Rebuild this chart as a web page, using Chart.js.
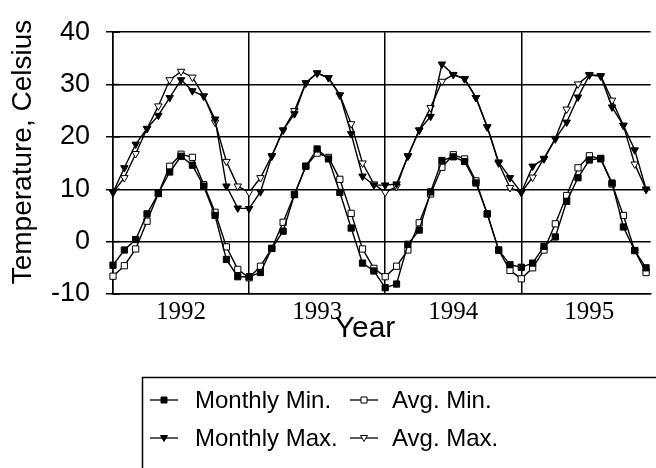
<!DOCTYPE html>
<html>
<head>
<meta charset="utf-8">
<script src="https://cdn.jsdelivr.net/npm/chart.js"></script>
<style>
  html, body { margin: 0; background: #fff; }
  canvas { display: block; }
</style>
</head>
<body>
<canvas id="temperaturas" width="656" height="468"></canvas>
<script>
// Temperaturas mensuales 1992-1995, un punto por mes (ene 1992 = 0).
var anios = ['1992', '1993', '1994', '1995'];
var etiquetas = ['Monthly Min.', 'Avg. Min.', 'Monthly Max.', 'Avg. Max.'];

var minMensual = [
  -4.5, -1.6, 0.4, 5.3, 9.2, 13.3, 16.3, 14.6, 10.6, 5.0, -3.4, -6.7,
  -6.7, -5.9, -1.3, 2.0, 9.0, 14.4, 17.7, 15.8, 9.4, 2.6, -4.1, -5.6,
  -8.8, -8.1, -0.5, 2.2, 9.5, 15.5, 16.2, 15.3, 11.2, 5.3, -1.6, -4.4,
  -4.9, -4.1, -0.9, 0.9, 7.7, 12.2, 15.6, 15.9, 11.2, 2.8, -1.7, -5.0,
];
var minPromedio = [
  -6.6, -4.6, -1.4, 3.9, 9.2, 14.4, 16.7, 16.1, 10.9, 5.6, -1.0, -5.3,
  -6.9, -4.7, -1.3, 3.7, 9.0, 14.4, 16.9, 16.1, 11.9, 5.4, -1.4, -5.1,
  -6.7, -4.7, -1.6, 3.6, 9.1, 14.2, 16.6, 15.8, 11.6, 5.3, -1.6, -5.5,
  -7.1, -5.0, -1.6, 3.4, 8.8, 14.1, 16.4, 15.8, 11.0, 5.0, -1.7, -5.9,
];
var maxMensual = [
  9.4, 14.1, 18.6, 21.6, 24.1, 27.5, 30.9, 28.8, 27.8, 23.4, 10.6, 6.4,
  6.3, 9.5, 16.3, 21.3, 24.4, 30.3, 32.2, 31.3, 28.0, 20.6, 12.5, 10.8,
  10.8, 11.0, 16.3, 21.3, 23.9, 33.9, 31.9, 31.1, 27.5, 21.9, 15.2, 12.2,
  9.4, 14.4, 15.8, 19.6, 22.8, 27.6, 31.8, 31.6, 25.7, 22.2, 17.5, 10.0,
];
var maxPromedio = [
  9.4, 12.2, 16.8, 21.6, 25.9, 30.9, 32.5, 31.4, 27.8, 22.8, 15.3, 10.6,
  9.4, 12.2, 16.4, 21.3, 25.0, 30.3, 32.2, 31.3, 28.0, 22.5, 15.0, 11.0,
  9.4, 10.5, 16.4, 21.3, 25.6, 30.6, 31.9, 31.1, 27.5, 21.9, 15.0, 10.3,
  9.4, 12.3, 15.9, 19.7, 25.3, 30.1, 31.9, 31.7, 27.0, 22.2, 14.8, 10.0,
];

var fuente = '"Liberation Sans", Arial, sans-serif';

function serie(etiqueta, valores, estilo, relleno) {
  return {
    label: etiqueta,
    data: valores.map(function (v, i) { return { x: i, y: v }; }),
    borderColor: '#000',
    borderWidth: 1.4,
    pointStyle: estilo,
    pointRotation: estilo === 'triangle' ? 180 : 0,
    pointRadius: estilo === 'rect' ? 4.4 : 4.3,
    pointBackgroundColor: relleno,
    pointBorderColor: '#000',
    pointBorderWidth: 1,
    tension: 0,
    fill: false,
    clip: false,
  };
}

// marcador pequeño para la leyenda
function marcador(ctx, estilo, relleno, x, y) {
  ctx.beginPath();
  if (estilo === 'rect') {
    ctx.rect(x - 3, y - 3, 6, 6);
  } else {
    ctx.moveTo(x - 3.5, y - 2.5);
    ctx.lineTo(x + 3.5, y - 2.5);
    ctx.lineTo(x, y + 3.5);
    ctx.closePath();
  }
  ctx.fillStyle = relleno;
  ctx.fill();
  ctx.lineWidth = 1;
  ctx.stroke();
}

var rotulos = {
  id: 'rotulos',
  afterDraw: function (chart) {
    var ctx = chart.ctx;
    var area = chart.chartArea;
    var ey = chart.scales.y;
    ctx.save();
    ctx.strokeStyle = '#000';
    ctx.lineWidth = 1.5;
    // marcas hacia dentro del eje
    ey.ticks.forEach(function (t) {
      var py = ey.getPixelForValue(t.value);
      ctx.beginPath();
      ctx.moveTo(area.left, py);
      ctx.lineTo(area.left + 7, py);
      ctx.stroke();
    });

    ctx.fillStyle = '#000';
    ctx.textAlign = 'center';
    ctx.textBaseline = 'middle';
    ctx.font = '28px ' + fuente;
    ctx.save();
    ctx.translate(23, 152);
    ctx.rotate(-Math.PI / 2);
    ctx.fillText('Temperature, Celsius', 0, 0);
    ctx.restore();
    ctx.font = '30px ' + fuente;
    ctx.fillText('Year', 365, 329);

    // leyenda en caja, 2 x 2
    ctx.lineWidth = 1.5;
    ctx.strokeRect(142.5, 377.5, 700, 200);
    var pos = [[150, 400], [350, 400], [150, 438], [350, 438]];
    ctx.font = '24px ' + fuente;
    ctx.textAlign = 'left';
    chart.data.datasets.forEach(function (ds, i) {
      var x = pos[i][0], y = pos[i][1];
      ctx.strokeStyle = '#000';
      ctx.lineWidth = 1.3;
      ctx.beginPath();
      ctx.moveTo(x, y);
      ctx.lineTo(x + 28, y);
      ctx.stroke();
      marcador(ctx, ds.pointStyle, ds.pointBackgroundColor, x + 14, y);
      ctx.fillStyle = '#000';
      ctx.fillText(ds.label, x + (i % 2 === 0 ? 45 : 42), y + 1);
    });
    ctx.restore();
  },
};

document.addEventListener('DOMContentLoaded', function () {
  new Chart(document.getElementById('temperaturas').getContext('2d'), {
    type: 'line',
    data: {
      datasets: [
        serie(etiquetas[0], minMensual, 'rect', '#000'),
        serie(etiquetas[1], minPromedio, 'rect', '#fff'),
        serie(etiquetas[2], maxMensual, 'triangle', '#000'),
        serie(etiquetas[3], maxPromedio, 'triangle', '#fff'),
      ],
    },
    plugins: [rotulos],
    options: {
      responsive: false,
      animation: false,
      layout: { padding: { top: 27, left: 0, right: 0, bottom: 0 } },
      plugins: { legend: { display: false }, tooltip: { enabled: false } },
      scales: {
        x: {
          type: 'linear',
          min: 0,
          max: 47.4,
          afterBuildTicks: function (s) {
            var marcas = [];
            for (var m = 0; m <= 42; m += 6) marcas.push({ value: m });
            s.ticks = marcas;
          },
          afterFit: function (s) { s.height = 174; },
          grid: {
            color: function (c) { return c.tick && c.tick.value % 12 === 0 ? '#000' : 'rgba(0,0,0,0)'; },
            lineWidth: 1.5,
            drawTicks: false,
          },
          border: { display: true, color: '#000', width: 1.5 },
          ticks: {
            autoSkip: false,
            maxRotation: 0,
            padding: 3,
            color: '#000',
            font: { family: '"Liberation Serif", "Times New Roman", serif', size: 25 },
            callback: function (v) { return v % 12 === 6 ? anios[(v - 6) / 12] : ''; },
          },
        },
        y: {
          min: -10,
          max: 40,
          afterFit: function (s) { s.width = 113; },
          grid: {
            color: function (c) { return c.tick && c.tick.value % 10 === 0 ? '#000' : 'rgba(0,0,0,0)'; },
            tickColor: '#000',
            tickLength: 7,
            lineWidth: 1.5,
          },
          border: { display: true, color: '#000', width: 1.5 },
          ticks: {
            stepSize: 5,
            padding: 16,
            color: '#000',
            font: { family: fuente, size: 27 },
            callback: function (v) { return v % 10 === 0 ? v : ''; },
          },
        },
      },
    },
  });
});
</script>
</body>
</html>
